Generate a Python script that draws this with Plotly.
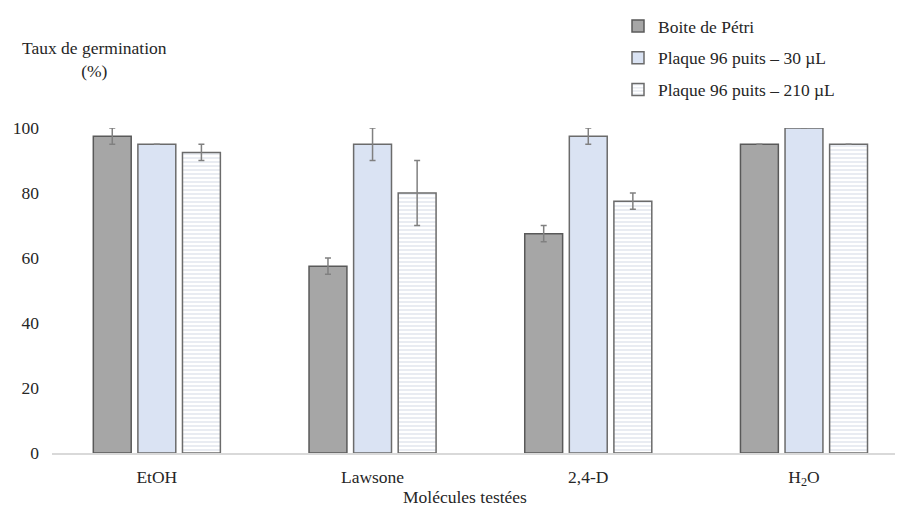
import plotly.graph_objects as go

categories = ["EtOH", "Lawsone", "2,4-D", "H<sub>2</sub>O"]
series_names = ["Boite de Pétri", "Plaque 96 puits – 30 µL", "Plaque 96 puits – 210 µL"]
petri = [97.5, 57.5, 67.5, 95]
petri_err = [2.5, 2.5, 2.5, 0]
plaque30 = [95, 95, 97.5, 100]
plaque30_err = [0, 5, 2.5, 0]
plaque210 = [92.5, 80, 77.5, 95]
plaque210_err = [2.5, 10, 2.5, 0]
y_ticks = [0, 20, 40, 60, 80, 100]

FONT = "Liberation Serif"
FS = 17.5
W, H = 895, 500
L, T, B = 44, 120, 55
PW, PH = W - L, H - T - B
fig = go.Figure()

err_style = dict(type="data", color="#808080", thickness=1.5, width=3, visible=True)

fig.add_trace(go.Bar(
    x=categories, y=petri, name=series_names[0], legendgroup="a",
    marker=dict(color="#a6a6a6", line=dict(color="#595959", width=1.5)),
    error_y=dict(array=petri_err, **err_style),
))
fig.add_trace(go.Bar(
    x=categories, y=plaque30, name=series_names[1], legendgroup="b",
    marker=dict(color="#dae3f3", line=dict(color="#6b6b6b", width=1.5)),
    error_y=dict(array=plaque30_err, **err_style),
))
fig.add_trace(go.Bar(
    x=categories, y=plaque210, name=series_names[2], legendgroup="c",
    marker=dict(color="#ffffff", line=dict(color="#6b6b6b", width=1.5),
                pattern=dict(shape="-", bgcolor="#ffffff", fgcolor="#cfd6e2",
                             size=4, solidity=0.45, fillmode="overlay")),
    error_y=dict(array=plaque210_err, **err_style),
))

fig.update_layout(
    width=W, height=H,
    margin=dict(l=L, r=0, t=T, b=B, autoexpand=False),
    paper_bgcolor="white", plot_bgcolor="white",
    font=dict(family=FONT, size=FS, color="#262626"),
    barmode="group", bargap=0.38, bargroupgap=0.15,
    showlegend=True,
    legend=dict(xref="container", yref="container", x=(637 - 8 - 19) / W, y=1 + 2 / H,
                xanchor="left", yanchor="top",
                font=dict(family=FONT, size=FS, color="#262626"),
                traceorder="grouped", tracegroupgap=6,
                itemwidth=30, bgcolor="rgba(0,0,0,0)"),
    xaxis=dict(range=[-0.486, 3.459], showgrid=False, showline=True,
               linecolor="#d9d9d9", linewidth=1.5, ticks="",
               ticklabelstandoff=7,
               tickfont=dict(family=FONT, size=FS, color="#262626")),
    yaxis=dict(range=[0, 100], tickvals=y_ticks, showgrid=False, showline=False,
               zeroline=False, ticks="", ticklabelstandoff=12,
               tickfont=dict(family=FONT, size=FS, color="#262626")),
    annotations=[
        dict(text="Taux de germination<br>(%)", xref="paper", yref="paper",
             x=(94 - 8 - L) / PW, y=1 + (128 - 59) / PH,
             xanchor="center", yanchor="middle", showarrow=False,
             font=dict(family=FONT, size=FS, color="#262626"), align="center"),
        dict(text="Molécules testées", xref="paper", yref="paper",
             x=(465 - 8 - L) / PW, y=-(497 - 453) / PH,
             xanchor="center", yanchor="middle", showarrow=False,
             font=dict(family=FONT, size=FS, color="#262626")),
    ],
)

fig.write_html("out.html")
